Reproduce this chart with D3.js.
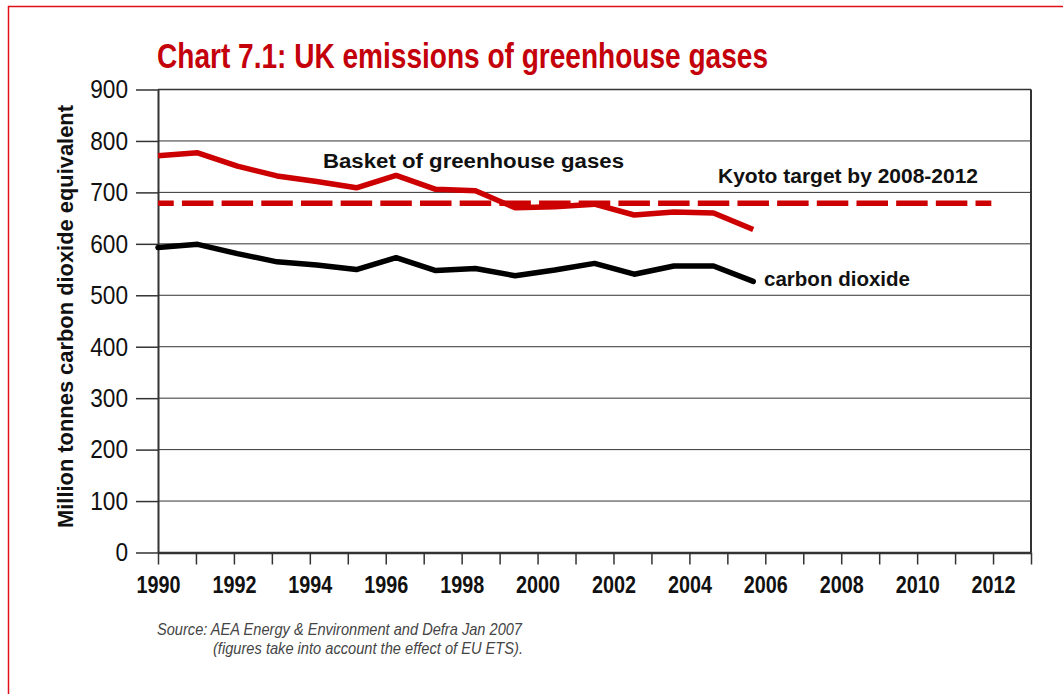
<!DOCTYPE html>
<html>
<head>
<meta charset="utf-8">
<script src="https://cdn.jsdelivr.net/npm/d3@7/dist/d3.min.js"></script>
<style>
  html, body { margin: 0; padding: 0; background: #fff; }
  svg { display: block; }
</style>
</head>
<body>
<svg id="chart" width="1063" height="694"></svg>
<script>
// ---- data ----
const years = [1990,1991,1992,1993,1994,1995,1996,1997,1998,1999,2000,2001,2002,2003,2004,2005];
const basketValues = [771,777,751,732,721,709,733,706,703,670,672,677,656,662,660,628];
const co2Values    = [593,599,581,565,559,550,573,548,552,538,549,562,541,557,557,527];
const kyotoTarget = 679;
const kyotoYears = [1990, 2011];
const categoryYears = d3.range(1990, 2013);        // category positions used by the series
const axisTickYears = d3.range(1990, 2014);        // tick marks on the x axis
const xTickLabels = [1990,1992,1994,1996,1998,2000,2002,2004,2006,2008,2010,2012];
const yTickValues = [0,100,200,300,400,500,600,700,800,900];

const titleText = "Chart 7.1: UK emissions of greenhouse gases";
const yAxisTitle = "Million tonnes carbon dioxide equivalent";
const labelBasket = "Basket of greenhouse gases";
const labelKyoto = "Kyoto target by 2008-2012";
const labelCO2 = "carbon dioxide";
const sourceLines = ["Source:  AEA Energy & Environment and Defra Jan 2007",
                     "(figures take into account the effect of EU ETS)."];

(function () {
// ---- layout ----
const FONT = "'Liberation Sans Narrow', 'Arial Narrow', 'Liberation Sans', sans-serif";
const RED = "#cc0000";
const svg = d3.select("#chart");
const pLeft = 158, pRight = 1031, pTop = 89.5, pBottom = 552.5;

const x = d3.scaleLinear().domain([1990, 2013]).range([pLeft, pRight]);
const xs = d3.scalePoint().domain(categoryYears).range([pLeft, pRight]);
const y = d3.scaleLinear().domain([0, 900]).range([pBottom, pTop]);

svg.append("rect").attr("width", 1063).attr("height", 694).attr("fill", "#fff");

// outer red frame
svg.append("path")
  .attr("d", "M8.5,694 V6.5 H1063")
  .attr("fill", "none").attr("stroke", "#e0101a").attr("stroke-width", 1.5);

// title
svg.append("text")
  .attr("x", 157).attr("y", 68)
  .attr("font-family", FONT).attr("font-weight", "bold").attr("font-size", 35)
  .attr("fill", "#c4000a")
  .attr("textLength", 611).attr("lengthAdjust", "spacingAndGlyphs")
  .text(titleText);

// gridlines
svg.append("g").selectAll("line")
  .data(yTickValues.filter(d => d > 0))
  .join("line")
  .attr("x1", pLeft).attr("x2", pRight)
  .attr("y1", d => y(d)).attr("y2", d => y(d))
  .attr("stroke", "#333").attr("stroke-width", d => d === 900 ? 1.5 : 1);

// right border
svg.append("line")
  .attr("x1", pRight).attr("x2", pRight).attr("y1", pTop).attr("y2", pBottom)
  .attr("stroke", "#333").attr("stroke-width", 2);

// y axis
const yAxis = svg.append("g")
  .attr("transform", `translate(${pLeft},0)`)
  .call(d3.axisLeft(y).tickValues(yTickValues).tickSize(22).tickPadding(8).tickSizeOuter(0));
yAxis.select(".domain").attr("stroke", "#333").attr("stroke-width", 2);
yAxis.selectAll(".tick line").attr("stroke", "#333").attr("stroke-width", 1.5);
yAxis.selectAll(".tick text")
  .attr("font-family", FONT).attr("font-size", 26).attr("fill", "#111")
  .attr("textLength", d => String(d).length * 12.6).attr("lengthAdjust", "spacingAndGlyphs");

// x axis
const xAxis = svg.append("g")
  .attr("transform", `translate(0,${pBottom})`)
  .call(d3.axisBottom(x).tickValues(axisTickYears).tickSize(12).tickPadding(11.5).tickSizeOuter(0)
    .tickFormat(d => xTickLabels.includes(d) ? String(d) : ""));
xAxis.select(".domain").attr("stroke", "#333").attr("stroke-width", 2.5);
xAxis.selectAll(".tick line").attr("stroke", "#333").attr("stroke-width", 1.5);
xAxis.selectAll(".tick text")
  .filter(d => xTickLabels.includes(d))
  .attr("font-family", FONT).attr("font-weight", "bold").attr("font-size", 24).attr("fill", "#111")
  .attr("textLength", 44).attr("lengthAdjust", "spacingAndGlyphs");

// y axis title
svg.append("text")
  .attr("transform", "translate(73,316.5) rotate(-90)")
  .attr("text-anchor", "middle")
  .attr("font-family", FONT).attr("font-weight", "bold").attr("font-size", 22)
  .attr("fill", "#111")
  .attr("textLength", 423).attr("lengthAdjust", "spacingAndGlyphs")
  .text(yAxisTitle);

// Kyoto target dashed line
svg.append("line")
  .attr("x1", xs(kyotoYears[0])).attr("x2", xs(kyotoYears[1]))
  .attr("y1", y(kyotoTarget)).attr("y2", y(kyotoTarget))
  .attr("stroke", RED).attr("stroke-width", 5.5)
  .attr("stroke-dasharray", "31.5,8.18").attr("stroke-dashoffset", 15.75);

// series lines
const line = d3.line().x(d => xs(d[0])).y(d => y(d[1]));
svg.append("path")
  .datum(years.map((yr, i) => [yr, co2Values[i]]))
  .attr("d", line).attr("fill", "none")
  .attr("stroke", "#000").attr("stroke-width", 5.5)
  .attr("stroke-linejoin", "round").attr("stroke-linecap", "round");
svg.append("path")
  .datum(years.map((yr, i) => [yr, basketValues[i]]))
  .attr("d", line).attr("fill", "none")
  .attr("stroke", RED).attr("stroke-width", 5.5)
  .attr("stroke-linejoin", "round").attr("stroke-linecap", "butt");

// annotations
function label(txt, xx, yy, w) {
  svg.append("text")
    .attr("x", xx).attr("y", yy)
    .attr("font-family", FONT).attr("font-weight", "bold").attr("font-size", 19.5)
    .attr("fill", "#111")
    .attr("textLength", w).attr("lengthAdjust", "spacingAndGlyphs")
    .text(txt);
}
label(labelBasket, 323, 168, 301);
label(labelKyoto, 718, 183, 260);
label(labelCO2, 764, 286, 146);

// source
const src = svg.append("g")
  .attr("font-family", FONT).attr("font-style", "italic").attr("font-size", 16.5)
  .attr("fill", "#444");
src.append("text").attr("x", 157).attr("y", 634.5)
  .attr("textLength", 365).attr("lengthAdjust", "spacingAndGlyphs").text(sourceLines[0]);
src.append("text").attr("x", 213).attr("y", 654)
  .attr("textLength", 310).attr("lengthAdjust", "spacingAndGlyphs").text(sourceLines[1]);
})();
</script>
</body>
</html>
